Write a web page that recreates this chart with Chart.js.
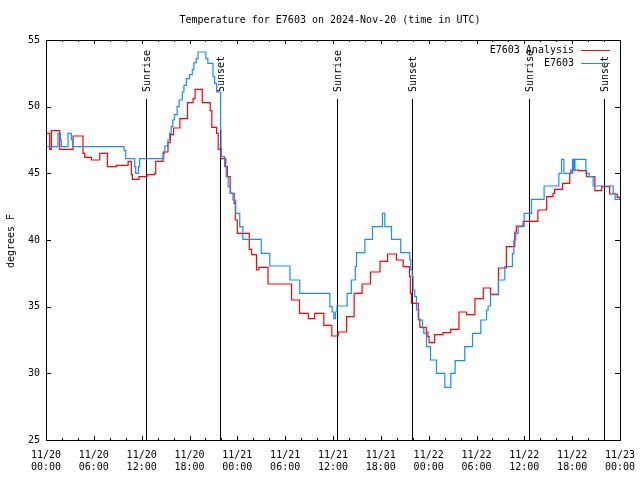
<!DOCTYPE html>
<html>
<head>
<meta charset="utf-8">
<script src="https://cdn.jsdelivr.net/npm/chart.js@4"></script>
<style>
  html, body { margin: 0; padding: 0; background: #fff; }
  canvas { display: block; }
</style>
</head>
<body>
<canvas id="tempChart" width="640" height="480"></canvas>
<script>
// times are hours since 2024-11-20 00:00 UTC; each value holds until the next time (steps)
const analysisTimes = [0, 0.46, 0.67, 1.72, 3.39, 4.64, 4.86, 5.7, 6.74, 7.7, 8.83, 10.3, 10.7, 10.84, 11.67, 12.67,
  13.64, 13.76, 14.68, 15.3, 15.6, 16.0, 16.8, 17.75, 18.45, 18.7, 19.6, 20.6, 20.8, 21.4, 21.6, 21.9, 22.55, 22.75,
  23.1, 23.6, 23.75, 24.0, 25.5, 25.8, 26.4, 26.7, 27.85, 30.8, 31.8, 32.9, 33.7, 34.85, 35.85, 36.65, 37.7, 38.65,
  39.65, 40.7, 41.9, 42.85, 43.95, 44.8, 45.6, 45.7, 45.85, 46.7, 46.75, 46.9, 47.7, 47.9, 48.05, 48.75, 49.8, 50.75,
  51.8, 52.75, 53.8, 54.85, 55.75, 56.75, 57.75, 58.8, 59.0, 59.85, 61.7, 62.8, 63.6, 63.8, 64.8, 65.7, 65.85, 66.75,
  67.8, 68.85, 69.7, 70.7, 71.65, 72];
const analysisTemps = [48.0, 46.8, 48.2, 46.8, 47.8, 46.5, 46.2, 46.0, 46.5, 45.5, 45.6, 45.9, 44.9, 44.55, 44.75, 44.9,
  45.0, 45.9, 46.6, 47.3, 47.9, 48.4, 49.1, 50.3, 50.6, 51.3, 50.3, 49.7, 48.45, 48.0, 46.8, 46.1, 45.5, 44.75,
  43.5, 42.75, 41.5, 40.5, 39.3, 38.9, 37.75, 37.95, 36.7, 35.5, 34.5, 34.1, 34.5, 33.6, 32.8, 33.1, 34.25, 36.0,
  36.7, 37.6, 38.4, 38.95, 38.5, 38.0, 37.25, 36.0, 35.25, 34.8, 34.05, 33.45, 33.1, 32.75, 32.3, 32.9, 33.05, 33.3,
  34.6, 34.4, 35.6, 36.4, 35.9, 37.9, 39.5, 40.6, 41.05, 41.4, 42.25, 43.25, 43.5, 43.8, 44.25, 45.0, 45.25, 45.2,
  44.75, 43.7, 44.0, 43.45, 43.2, 43.0];

const stationTimes = [0, 1.5, 1.8, 1.93, 2.76, 3.18, 3.39, 9.8, 10.0, 11.13, 11.25, 11.6, 11.75, 14.77, 14.9, 15.3,
  15.5, 15.7, 15.9, 16.1, 16.45, 16.7, 17.1, 17.3, 17.6, 18.0, 18.35, 18.55, 18.85, 19.07, 20.05, 20.3, 20.95, 21.15,
  21.4, 21.9, 21.95, 22.0, 22.4, 22.6, 22.85, 23.15, 23.45, 23.8, 24.3, 24.7, 27.0, 28.07, 30.6, 31.83, 35.6, 35.9,
  36.1, 36.3, 36.5, 37.77, 38.3, 38.8, 38.95, 40.0, 40.95, 42.2, 42.5, 43.34, 44.5, 45.63, 45.76, 45.93, 46.05, 46.26,
  46.47, 46.68, 47.23, 47.39, 47.73, 48.23, 48.98, 50.03, 50.78, 51.32, 52.53, 53.5, 54.54, 55.26, 55.46, 55.76,
  56.76, 57.55, 58.5, 58.68, 58.93, 59.22, 59.98, 60.9, 62.48, 64.33, 64.67, 64.96, 66.05, 66.2, 66.35, 67.72, 68.13,
  68.63, 71.14, 71.39, 72];
const stationTemps = [47.0, 48.0, 47.5, 47.0, 48.0, 47.5, 47.0, 46.7, 46.1, 45.5, 45.0, 45.5, 46.1, 46.5, 47.05, 47.5,
  48.0, 48.5, 49.0, 49.4, 50.0, 50.5, 51.1, 51.6, 52.1, 52.4, 52.8, 53.3, 53.6, 54.1, 53.6, 53.25, 52.25, 51.75,
  51.1, 48.25, 46.9, 46.25, 45.5, 44.75, 44.0, 43.5, 43.0, 42.0, 41.0, 40.05, 39.0, 38.05, 37.0, 36.0, 35.0, 34.6,
  34.1, 34.6, 35.05, 36.0, 37.0, 38.0, 39.05, 40.05, 41.0, 42.0, 41.0, 40.05, 39.05, 38.5, 37.75, 37.25, 36.25, 35.75,
  34.75, 34.0, 33.4, 33.0, 32.0, 31.0, 30.0, 28.95, 30.0, 30.95, 32.0, 33.0, 34.0, 34.75, 35.05, 35.95,
  37.0, 38.0, 39.0, 40.0, 40.5, 41.0, 42.0, 43.05, 44.05, 45.0, 46.05, 45.0, 46.05, 45.2, 46.05, 45.0, 44.75,
  44.05, 43.5, 43.05, 43.05];

const xTickDays  = ['11/20', '11/20', '11/20', '11/20', '11/21', '11/21', '11/21', '11/21', '11/22', '11/22', '11/22', '11/22', '11/23'];
const xTickHours = ['00:00', '06:00', '12:00', '18:00', '00:00', '06:00', '12:00', '18:00', '00:00', '06:00', '12:00', '18:00', '00:00'];

const sunTimes  = [12.55, 21.83, 36.47, 45.92, 60.6, 70.0];
const sunLabels = ['Sunrise', 'Sunset', 'Sunrise', 'Sunset', 'Sunrise', 'Sunset'];

const FONT = '10px "DejaVu Sans Mono", monospace';

function toPoints(times, temps) {
  return times.map((t, i) => ({ x: t, y: temps[i] }));
}

// gnuplot-like frame, inward ticks, sunrise/sunset markers, legend and titles
const gnuplotLook = {
  id: 'gnuplotLook',
  beforeDatasetsDraw(chart) {
    const ctx = chart.ctx;
    const { bottom } = chart.chartArea;
    const xs = chart.scales.x;
    ctx.save();
    ctx.strokeStyle = '#000';
    ctx.lineWidth = 1;
    ctx.fillStyle = '#000';
    ctx.font = FONT;
    sunTimes.forEach((t, i) => {
      const px = Math.round(xs.getPixelForValue(t)) + 0.5;
      ctx.beginPath();
      ctx.moveTo(px, 99);
      ctx.lineTo(px, bottom);
      ctx.stroke();
      ctx.save();
      ctx.translate(px + 1, 92);
      ctx.rotate(-Math.PI / 2);
      ctx.textAlign = 'left';
      ctx.textBaseline = 'middle';
      ctx.fillText(sunLabels[i], 0, 0);
      ctx.restore();
    });
    ctx.restore();
  },
  afterDraw(chart) {
    const ctx = chart.ctx;
    const { left, right, top, bottom } = chart.chartArea;
    const xs = chart.scales.x, ys = chart.scales.y;
    ctx.save();
    ctx.strokeStyle = '#000';
    ctx.lineWidth = 1;
    ctx.strokeRect(left + 0.5, top + 0.5, right - left, bottom - top);

    ctx.beginPath();
    for (let h = xs.min; h <= xs.max; h += 2) {
      const px = Math.round(xs.getPixelForValue(h)) + 0.5;
      const len = h % 6 === 0 ? 4 : 2;
      ctx.moveTo(px, bottom); ctx.lineTo(px, bottom - len);
      ctx.moveTo(px, top); ctx.lineTo(px, top + len);
    }
    ys.ticks.forEach(tk => {
      const py = Math.round(ys.getPixelForValue(tk.value)) + 0.5;
      ctx.moveTo(left, py); ctx.lineTo(left + 5, py);
      ctx.moveTo(right, py); ctx.lineTo(right - 5, py);
    });
    ctx.stroke();

    // legend
    ctx.font = FONT;
    ctx.fillStyle = '#000';
    ctx.textAlign = 'right';
    ctx.textBaseline = 'middle';
    chart.data.datasets.forEach((ds, i) => {
      const y = 50 + i * 13;
      ctx.fillText(ds.label, 574, y);
      ctx.strokeStyle = ds.borderColor;
      ctx.beginPath();
      ctx.moveTo(581, y + 0.5);
      ctx.lineTo(610, y + 0.5);
      ctx.stroke();
    });

    // title and y-axis label
    ctx.textAlign = 'center';
    ctx.fillText('Temperature for E7603 on 2024-Nov-20 (time in UTC)', 330, 20);
    ctx.translate(11, 241);
    ctx.rotate(-Math.PI / 2);
    ctx.fillText('degrees F', 0, 0);
    ctx.restore();
  }
};

Chart.defaults.font.family = '"DejaVu Sans Mono", monospace';
Chart.defaults.font.size = 10;
Chart.defaults.color = '#000';

new Chart(document.getElementById('tempChart'), {
  type: 'line',
  data: {
    datasets: [
      {
        label: 'E7603 Analysis',
        data: toPoints(analysisTimes, analysisTemps),
        borderColor: '#ff0000',
        borderWidth: 1.2,
        pointRadius: 0,
        stepped: true,
        fill: false,
        order: 1
      },
      {
        label: 'E7603',
        data: toPoints(stationTimes, stationTemps),
        borderColor: '#1a8cff',
        borderWidth: 1.2,
        pointRadius: 0,
        stepped: true,
        fill: false,
        order: 0
      }
    ]
  },
  options: {
    responsive: false,
    animation: false,
    layout: { padding: { top: 40, right: 20, left: 0, bottom: 0 } },
    plugins: {
      legend: { display: false },
      title: { display: false },
      tooltip: { enabled: false }
    },
    scales: {
      x: {
        type: 'linear',
        min: 0,
        max: 72,
        grid: { display: false, drawTicks: false },
        border: { display: false },
        ticks: {
          stepSize: 6,
          autoSkip: false,
          maxRotation: 0,
          padding: 9,
          callback: v => {
            const i = Math.round(v / 6);
            return [xTickDays[i], xTickHours[i]];
          }
        },
        afterFit: s => { s.height = 40; s.paddingLeft = 0; s.paddingRight = 0; }
      },
      y: {
        min: 25,
        max: 55,
        grid: { display: false, drawTicks: false },
        border: { display: false },
        ticks: { stepSize: 5, padding: 6 },
        afterFit: s => { s.width = 46; s.paddingTop = 0; s.paddingBottom = 0; }
      }
    }
  },
  plugins: [gnuplotLook]
});
</script>
</body>
</html>
